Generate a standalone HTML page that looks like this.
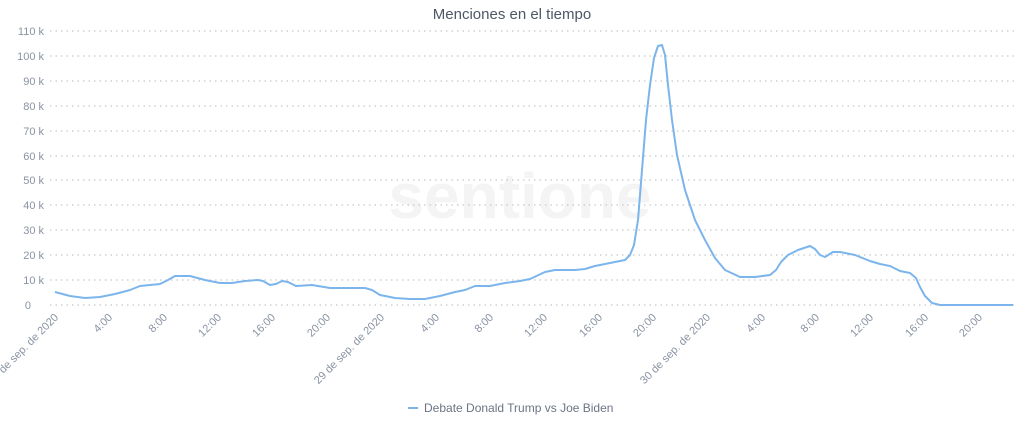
<!DOCTYPE html><html><head><style>body{margin:0;background:#fff}svg{display:block;font-family:"Liberation Sans",sans-serif}</style></head><body>
<svg width="1024" height="426" viewBox="0 0 1024 426">
<text x="512" y="19" text-anchor="middle" font-size="15" fill="#4d5766">Menciones en el tiempo</text>
<text x="520" y="218" text-anchor="middle" font-size="64" fill="#f4f4f4" font-weight="bold">sentione</text>
<g stroke="#c8c8c8" stroke-dasharray="1.5,4" stroke-width="1.2">
<line x1="50" x2="1016" y1="31" y2="31"/><line x1="50" x2="1016" y1="56" y2="56"/><line x1="50" x2="1016" y1="81" y2="81"/><line x1="50" x2="1016" y1="106" y2="106"/><line x1="50" x2="1016" y1="131" y2="131"/><line x1="50" x2="1016" y1="156" y2="156"/><line x1="50" x2="1016" y1="180" y2="180"/><line x1="50" x2="1016" y1="205" y2="205"/><line x1="50" x2="1016" y1="230" y2="230"/><line x1="50" x2="1016" y1="255" y2="255"/><line x1="50" x2="1016" y1="280" y2="280"/><line x1="50" x2="1016" y1="305" y2="305"/>
</g>
<g font-size="11" fill="#8a93a3" text-anchor="end">
<text x="44" y="35">110 k</text><text x="44" y="60">100 k</text><text x="44" y="85">90 k</text><text x="44" y="110">80 k</text><text x="44" y="135">70 k</text><text x="44" y="160">60 k</text><text x="44" y="184">50 k</text><text x="44" y="209">40 k</text><text x="44" y="234">30 k</text><text x="44" y="259">20 k</text><text x="44" y="284">10 k</text><text x="31" y="309">0</text>
</g>
<g font-size="11" fill="#8a93a3" text-anchor="end">
<text transform="translate(59,318) rotate(-45)">28 de sep. de 2020</text>
<text transform="translate(113,318) rotate(-45)">4:00</text>
<text transform="translate(168,318) rotate(-45)">8:00</text>
<text transform="translate(222,318) rotate(-45)">12:00</text>
<text transform="translate(276,318) rotate(-45)">16:00</text>
<text transform="translate(331,318) rotate(-45)">20:00</text>
<text transform="translate(385,318) rotate(-45)">29 de sep. de 2020</text>
<text transform="translate(440,318) rotate(-45)">4:00</text>
<text transform="translate(494,318) rotate(-45)">8:00</text>
<text transform="translate(548,318) rotate(-45)">12:00</text>
<text transform="translate(603,318) rotate(-45)">16:00</text>
<text transform="translate(657,318) rotate(-45)">20:00</text>
<text transform="translate(711,318) rotate(-45)">30 de sep. de 2020</text>
<text transform="translate(766,318) rotate(-45)">4:00</text>
<text transform="translate(820,318) rotate(-45)">8:00</text>
<text transform="translate(874,318) rotate(-45)">12:00</text>
<text transform="translate(929,318) rotate(-45)">16:00</text>
<text transform="translate(983,318) rotate(-45)">20:00</text>
</g>
<polyline fill="none" stroke="#7cb5ec" stroke-width="2" stroke-linejoin="round" points="55,292 70,296 85,298 100,297 115,294 130,290 140,286 150,285 160,284 168,280 175,276 190,276 205,280 220,283 232,283 245,281 258,280 263,281 270,285 276,284 282,281 288,282 296,286 312,285 330,288 345,288 365,288 372,290 380,295 395,298 410,299 425,299 440,296 455,292 465,290 475,286 490,286 505,283 520,281 530,279 545,272 555,270 575,270 585,269 595,266 610,263 625,260 630,255 634,245 638,220 642,170 646,120 650,85 654,58 658,46 662,45 665,55 668,85 672,120 677,155 685,190 695,220 705,240 715,258 725,270 740,277 755,277 770,275 776,270 781,262 788,255 798,250 810,246 815,249 820,255 825,257 833,252 840,252 855,255 870,261 880,264 890,266 900,271 910,273 916,278 920,287 925,296 932,303 940,305 1013,305"/>
<line x1="408" x2="418" y1="408" y2="408" stroke="#7cb5ec" stroke-width="2"/>
<text x="424" y="412" font-size="12" fill="#6b7585">Debate Donald Trump vs Joe Biden</text>
</svg></body></html>
